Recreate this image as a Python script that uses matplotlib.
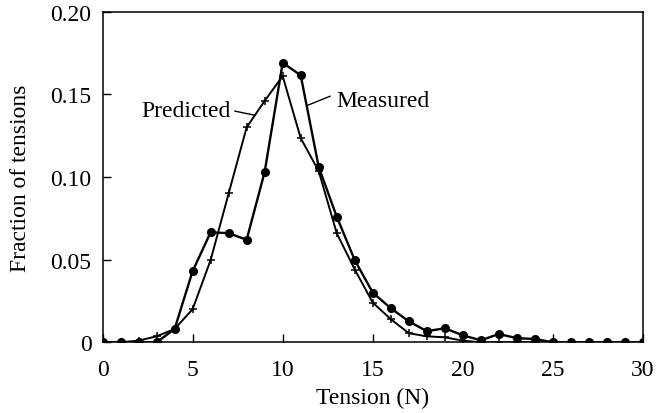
import matplotlib
matplotlib.use("Agg")
import matplotlib.pyplot as plt

tension = list(range(0, 31))
measured = [0.0, 0.0, 0.0, 0.0, 0.008, 0.043, 0.0665, 0.066, 0.062, 0.103,
            0.169, 0.1615, 0.106, 0.076, 0.0497, 0.030, 0.0206, 0.0127, 0.0067, 0.0085,
            0.0042, 0.0012, 0.005, 0.0025, 0.002, 0.0, 0.0, 0.0, 0.0, 0.0, 0.0]
predicted = [0.0, 0.0, 0.001, 0.0036, 0.008, 0.020, 0.0497, 0.090, 0.130, 0.146,
             0.161, 0.1235, 0.1035, 0.066, 0.044, 0.024, 0.014, 0.0055, 0.0036, 0.003,
             0.001, 0.0, 0.0, 0.0, 0.0, 0.0, 0.0, 0.0, 0.0, 0.0, 0.0]
x_ticks = [0, 5, 10, 15, 20, 25, 30]
y_ticks = [0, 0.05, 0.10, 0.15, 0.20]
y_tick_labels = ["0", "0.05", "0.10", "0.15", "0.20"]

plt.rcParams["font.family"] = ["Liberation Serif", "DejaVu Serif"]
FS = 17

fig = plt.figure(figsize=(6.58, 4.14), dpi=100)
ax = fig.add_axes([0.1558, 0.1708, 0.8214, 0.7988])

ax.plot(tension, predicted, color="black", lw=1.4, marker="+", ms=6, mew=1.1)
ax.plot(tension, measured, color="black", lw=1.7, marker="o", ms=5.5)

ax.set_xlim(0, 30)
ax.set_ylim(0, 0.20)
ax.set_xticks(x_ticks)
ax.set_yticks(y_ticks)
ax.set_yticklabels(y_tick_labels)
ax.tick_params(direction="in", length=6, width=1, labelsize=FS,
               top=False, right=False)
ax.tick_params(axis="x", pad=12)
ax.tick_params(axis="y", pad=8)
for s in ax.spines.values():
    s.set_linewidth(1.1)
ax.set_xlabel("Tension (N)", fontsize=FS, labelpad=5)
ax.set_ylabel("Fraction of tensions", fontsize=FS, labelpad=14)

ax.text(2.14, 0.1367, "Predicted", fontsize=FS, ha="left", va="baseline")
ax.plot([7.35, 8.46], [0.1398, 0.1373], color="black", lw=1.0)
ax.text(13.0, 0.1428, "Measured", fontsize=FS, ha="left", va="baseline")
ax.plot([12.63, 11.40], [0.1488, 0.1434], color="black", lw=1.0)

fig.savefig("out.png", dpi=100)
